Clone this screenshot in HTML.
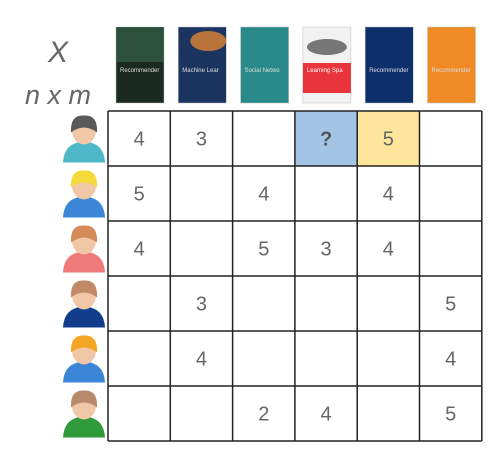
<!DOCTYPE html>
<html><head><meta charset="utf-8"><style>
body{margin:0;background:#fff;width:495px;height:462px;overflow:hidden;font-family:"Liberation Sans",sans-serif}
</style></head><body>
<svg id="s" width="495" height="462" xmlns="http://www.w3.org/2000/svg">
<text x="58" y="62" font-size="30" font-style="italic" fill="#666" text-anchor="middle">X</text>
<text x="58" y="104" font-size="27" font-style="italic" fill="#666" text-anchor="middle">n x m</text>
<g id="books"></g><g id="users"></g><g id="grid"></g>
</svg>
<script>
const ratings=[[4,3,null,'?',5,null],[5,null,4,null,4,null],[4,null,5,3,4,null],[null,3,null,null,null,5],[null,4,null,null,null,4],[null,null,2,4,null,5]];
const highlights=[[0,3,'#a4c4e6'],[0,4,'#fde59c']];
const bookColors=['#1a2a20','#1c3560','#2a8a8a','#f2f2f2','#0d2f6b','#f08a24'];
const bookTitles=['Recommender Systems','Machine Learning Paradigms','Social Network-Based Recommender Systems','Learning Spark','Recommender Systems','Recommender Systems and the Social Web'];
const hair=['#5a5a5a','#f3d93a','#d58a5a','#c08a68','#f5a623','#b8896a'];
const shirt=['#4fb8c8','#3b86d6','#f07a7a','#123c8c','#3b86d6','#2e9a3a'];
const X0=108,Y0=111,CW=62.3,RH=55;
const ns='http://www.w3.org/2000/svg';
function mk(t,a,p){const e=document.createElementNS(ns,t);for(const k in a)e.setAttribute(k,a[k]);p.appendChild(e);return e;}
const s=document.getElementById('s');
const g=document.getElementById('grid'),bk=document.getElementById('books'),us=document.getElementById('users');
highlights.forEach(h=>{const r=mk('rect',{x:X0+h[1]*CW,y:Y0+h[0]*RH,width:CW,height:RH,fill:h[2]},g);

});
ratings.forEach((row,i)=>row.forEach((v,j)=>{if(v===null)return;
const t=mk('text',{x:X0+(j+.5)*CW,y:Y0+(i+.5)*RH+7,'font-size':20,fill:v==='?'?'#555':'#666','text-anchor':'middle','font-weight':v==='?'?'bold':'normal'},g);t.textContent=v;

}));
for(let j=0;j<=6;j++){const l=mk('line',{x1:X0+j*CW,x2:X0+j*CW,y1:Y0,y2:Y0+6*RH,stroke:'#222','stroke-width':1.5},g);

}
for(let i=0;i<=6;i++){const l=mk('line',{x1:X0,x2:X0+6*CW,y1:Y0+i*RH,y2:Y0+i*RH,stroke:'#222','stroke-width':1.5},g);

}
bookColors.forEach((c,j)=>{const x=X0+j*CW+8,y=27;
const b=mk('g',{},bk);


mk('rect',{x:x,y:y,width:48,height:76,fill:c,stroke:'#bbb','stroke-width':.5},b);
if(j===3){mk('rect',{x:x,y:y+36,width:48,height:30,fill:'#e8343a'},b);mk('ellipse',{cx:x+24,cy:y+20,rx:20,ry:8,fill:'#777'},b);}
if(j===0){mk('rect',{x:x,y:y,width:48,height:35,fill:'#3a6a50',opacity:.6},b);}
if(j===1){mk('ellipse',{cx:x+30,cy:y+14,rx:18,ry:10,fill:'#b8743a'},b);}
const t=mk('text',{x:x+4,y:y+45,'font-size':6,fill:j===3?'#fff':'#ddd'},b);t.textContent=bookTitles[j].slice(0,12);

});
hair.forEach((h,i)=>{const cx=84,cy=Y0+i*RH+RH/2;
const u=mk('g',{},us);


mk('path',{d:`M${cx-21} ${cy+24} Q${cx-20} ${cy+4} ${cx} ${cy+3} Q${cx+20} ${cy+4} ${cx+21} ${cy+24} Z`,fill:shirt[i]},u);
mk('ellipse',{cx:cx,cy:cy-8,rx:12,ry:14,fill:'#f0c8a8'},u);
mk('path',{d:`M${cx-13} ${cy-6} Q${cx-14} ${cy-24} ${cx} ${cy-23} Q${cx+14} ${cy-24} ${cx+13} ${cy-6} Q${cx} ${cy-16} ${cx-13} ${cy-6}Z`,fill:h},u);});
</script>
</body></html>
